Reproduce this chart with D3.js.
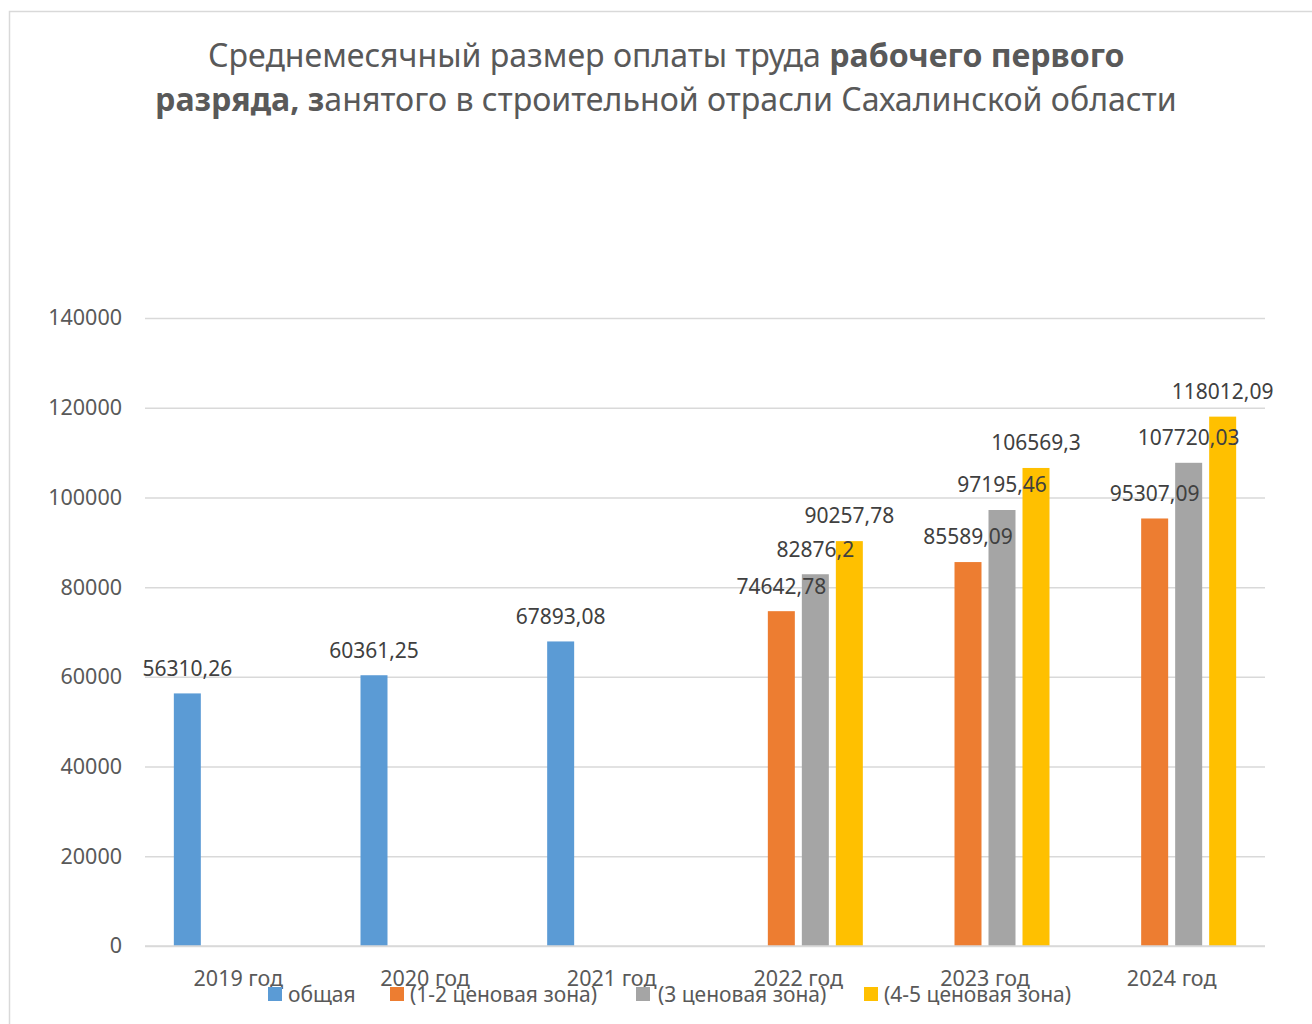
<!DOCTYPE html>
<html><head><meta charset="utf-8">
<script src="https://cdn.jsdelivr.net/npm/d3@7"></script>
<style>body{margin:0;background:#fff}svg{display:block}</style>
</head><body>
<svg id="c" width="1312" height="1024"></svg>
<script>
const categories = ["2019 год","2020 год","2021 год","2022 год","2023 год","2024 год"];
const seriesNames = ["общая","(1-2 ценовая зона)","(3 ценовая зона)","(4-5 ценовая зона)"];
const seriesColors = ["#5b9bd5","#ed7d31","#a5a5a5","#ffc000"];
const obshaya = [56310.26, 60361.25, 67893.08, null, null, null];
const zone12 = [null, null, null, 74642.78, 85589.09, 95307.09];
const zone3 = [null, null, null, 82876.2, 97195.46, 107720.03];
const zone45 = [null, null, null, 90257.78, 106569.3, 118012.09];
const yTicks = [0,20000,40000,60000,80000,100000,120000,140000];
const valueLabels = [
  ["56310,26","60361,25","67893,08",null,null,null],
  [null,null,null,"74642,78","85589,09","95307,09"],
  [null,null,null,"82876,2","97195,46","107720,03"],
  [null,null,null,"90257,78","106569,3","118012,09"]
];
const seriesValues = [obshaya, zone12, zone3, zone45];

(function(){
const svg = d3.select("#c");
const FONT = "'Noto Sans', 'Open Sans', sans-serif";
const txt = "#595959";

svg.append("rect").attr("x",9.5).attr("y",11.5).attr("width",1320).attr("height",1030)
  .attr("fill","none").attr("stroke","#d9d9d9").attr("stroke-width",1.5);

const title = svg.append("g").attr("font-family",FONT).attr("fill",txt).attr("font-size",32);
function titleLine(parts, yy, cx, targetW){
  const t = title.append("text").attr("x",0).attr("y",0);
  parts.forEach(p=>t.append("tspan").text(p[0]).attr("font-weight",p[1]?"bold":"normal"));
  const w = t.node().getComputedTextLength();
  const s = targetW / w;
  t.attr("transform",`translate(${cx - targetW/2},${yy}) scale(${s},1)`);
}
titleLine([["Среднемесячный размер оплаты труда ",false],["рабочего первого",true]], 67, 666.5, 917);
titleLine([["разряда, з",true],["анятого в строительной отрасли Сахалинской области",false]], 111, 666, 1022);

const pl = 145, pr = 1265, pt = 318, pb = 946;
const y = d3.scaleLinear().domain([0,140000]).range([pb, pt]);
const x0 = d3.scaleBand().domain(categories).range([pl, pr]).padding(0);
const x1 = d3.scaleBand().domain(d3.range(4)).range([-68, 68]).paddingInner(0.206).paddingOuter(0.103);

const yAxis = d3.axisLeft(y).tickValues(yTicks).tickSize(-(pr-pl)).tickFormat(d=>d);
const ga = svg.append("g").attr("transform",`translate(${pl},0)`).call(yAxis);
ga.select(".domain").remove();
ga.selectAll(".tick line").attr("stroke","#d9d9d9").attr("stroke-width",1.5);
ga.selectAll(".tick text").attr("x",-23).attr("font-family",FONT).attr("font-size",21.5).attr("fill",txt);

const bars = svg.append("g");
seriesValues.forEach((vals, si)=>{
  categories.forEach((c, ci)=>{
    const v = vals[ci];
    if (v == null) return;
    const cx = x0(c) + x0.bandwidth()/2;
    bars.append("rect")
      .attr("x", cx + x1(si)).attr("width", x1.bandwidth())
      .attr("y", y(v)).attr("height", y(0)-y(v))
      .attr("fill", seriesColors[si]);
  });
});
const labs = svg.append("g").attr("font-family",FONT).attr("font-size",21).attr("fill","#404040").attr("text-anchor","middle");
seriesValues.forEach((vals, si)=>{
  categories.forEach((c, ci)=>{
    const v = vals[ci];
    if (v == null) return;
    const cx = x0(c) + x0.bandwidth()/2 + x1(si) + x1.bandwidth()/2;
    labs.append("text").attr("x",cx).attr("y",y(v)-25).attr("dy","0.35em").text(valueLabels[si][ci]);
  });
});

svg.append("line").attr("x1",pl).attr("x2",pr).attr("y1",pb).attr("y2",pb)
  .attr("stroke","#d9d9d9").attr("stroke-width",1.5);
const xAxis = d3.axisBottom(x0).tickSize(0).tickPadding(0);
const gx = svg.append("g").attr("transform",`translate(0,${pb})`).call(xAxis);
gx.select(".domain").remove();
gx.selectAll(".tick text").attr("y",31).attr("dy","0").attr("font-family",FONT).attr("font-size",21.5).attr("fill",txt).attr("dominant-baseline","central");

const legX = [268, 390, 636, 864];
const leg = svg.append("g").attr("font-family",FONT).attr("font-size",21).attr("fill",txt);
seriesNames.forEach((n,i)=>{
  leg.append("rect").attr("x",legX[i]).attr("y",987).attr("width",14).attr("height",14).attr("fill",seriesColors[i]);
  leg.append("text").attr("x",legX[i]+(i===2?22:20)).attr("y",993.5).attr("dominant-baseline","central").text(n);
});
})();
</script>
</body></html>
